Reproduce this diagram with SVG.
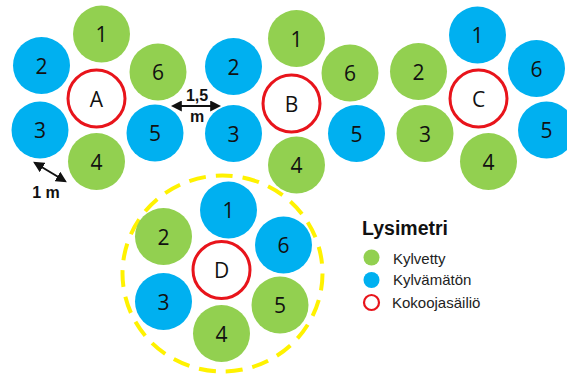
<svg xmlns="http://www.w3.org/2000/svg" width="567" height="374" viewBox="0 0 567 374">
<defs>
<style>
.g{fill:#92D050}
.b{fill:#00B0F0}
.r{fill:#fff;stroke:#E8141B;stroke-width:3}
.n{font-family:"Open Sans","Liberation Sans",sans-serif;font-size:21px;fill:#111;text-anchor:middle;dominant-baseline:central}
.l{font-family:"Open Sans","Liberation Sans",sans-serif;font-size:21px;fill:#111;text-anchor:middle;dominant-baseline:central}
.dim{font-family:"Liberation Sans",Arial,sans-serif;font-weight:bold;font-size:16px;fill:#111;text-anchor:middle}
.leg{font-family:"Liberation Sans",Arial,sans-serif;font-size:15px;fill:#222}
.ar{stroke:#111;stroke-width:2;fill:none;marker-start:url(#ah);marker-end:url(#ah)}
</style>
<marker id="ah" viewBox="0 0 10 10" refX="8" refY="5" markerWidth="5.5" markerHeight="5.5" orient="auto-start-reverse" markerUnits="strokeWidth">
<path d="M0,0 L10,5 L0,10 Z" fill="#111"/>
</marker>
</defs>
<rect width="567" height="374" fill="#fff"/>

<g id="ringD">
<ellipse cx="222.5" cy="273.5" rx="100" ry="98" fill="none" stroke="#FFF200" stroke-width="4" stroke-dasharray="17 10"/>
</g>

<g id="clusterA">
<g id="A1"><circle class="g" cx="101.5" cy="34" r="28.5"/><text class="n" x="101.5" y="34">1</text></g>
<g id="A2"><circle class="b" cx="41.5" cy="65.5" r="28.5"/><text class="n" x="41.5" y="65.5">2</text></g>
<g id="A6"><circle class="g" cx="158" cy="72" r="28.5"/><text class="n" x="158" y="72">6</text></g>
<g id="A"><circle class="r" cx="96.5" cy="98.5" r="28.5"/><text class="l" x="96.5" y="98.5">A</text></g>
<g id="A3"><circle class="b" cx="40" cy="130" r="28.5"/><text class="n" x="40" y="130">3</text></g>
<g id="A5"><circle class="b" cx="155" cy="133" r="28.5"/><text class="n" x="155" y="133">5</text></g>
<g id="A4"><circle class="g" cx="96.5" cy="161.5" r="28.5"/><text class="n" x="96.5" y="161.5">4</text></g>
</g>

<g id="clusterB">
<g id="B1"><circle class="g" cx="296.5" cy="38.5" r="28.5"/><text class="n" x="296.5" y="38.5">1</text></g>
<g id="B2"><circle class="b" cx="233.5" cy="66.5" r="28.5"/><text class="n" x="233.5" y="66.5">2</text></g>
<g id="B6"><circle class="g" cx="350" cy="73" r="28.5"/><text class="n" x="350" y="73">6</text></g>
<g id="B"><circle class="r" cx="291.5" cy="103.5" r="28.5"/><text class="l" x="291.5" y="103.5">B</text></g>
<g id="B3"><circle class="b" cx="233.5" cy="133.5" r="28.5"/><text class="n" x="233.5" y="133.5">3</text></g>
<g id="B5"><circle class="b" cx="356.5" cy="133.5" r="28.5"/><text class="n" x="356.5" y="133.5">5</text></g>
<g id="B4"><circle class="g" cx="296.5" cy="165" r="28.5"/><text class="n" x="296.5" y="165">4</text></g>
</g>

<g id="clusterC">
<g id="C1"><circle class="b" cx="477.5" cy="35" r="28.5"/><text class="n" x="477.5" y="35">1</text></g>
<g id="C2"><circle class="g" cx="418.5" cy="71.5" r="28.5"/><text class="n" x="418.5" y="71.5">2</text></g>
<g id="C6"><circle class="b" cx="536.5" cy="68.5" r="28.5"/><text class="n" x="536.5" y="68.5">6</text></g>
<g id="C"><circle class="r" cx="478.5" cy="98.5" r="28.5"/><text class="l" x="478.5" y="98.5">C</text></g>
<g id="C3"><circle class="g" cx="425" cy="133.5" r="28.5"/><text class="n" x="425" y="133.5">3</text></g>
<g id="C5"><circle class="b" cx="546.5" cy="130" r="28.5"/><text class="n" x="546.5" y="130">5</text></g>
<g id="C4"><circle class="g" cx="488.5" cy="161.5" r="28.5"/><text class="n" x="488.5" y="161.5">4</text></g>
</g>

<g id="clusterD">
<g id="D1"><circle class="b" cx="228.5" cy="210" r="28.5"/><text class="n" x="228.5" y="210">1</text></g>
<g id="D2"><circle class="g" cx="163.5" cy="236.5" r="28.5"/><text class="n" x="163.5" y="236.5">2</text></g>
<g id="D6"><circle class="b" cx="283.5" cy="245" r="28.5"/><text class="n" x="283.5" y="245">6</text></g>
<g id="D"><circle class="r" cx="221.5" cy="270" r="28.5"/><text class="l" x="221.5" y="270">D</text></g>
<g id="D3"><circle class="b" cx="163.5" cy="301.5" r="28.5"/><text class="n" x="163.5" y="301.5">3</text></g>
<g id="D5"><circle class="g" cx="280" cy="305" r="28.5"/><text class="n" x="280" y="305">5</text></g>
<g id="D4"><circle class="g" cx="221.5" cy="333.5" r="28.5"/><text class="n" x="221.5" y="333.5">4</text></g>
</g>

<g id="connectors">
<line class="ar" x1="35" y1="163" x2="65" y2="181"/>
<line class="ar" x1="173" y1="106" x2="219" y2="106"/>
</g>
<g id="dimlabels">
<text class="dim" x="46" y="198">1 m</text>
<text class="dim" x="197" y="101">1,5</text>
<text class="dim" x="197" y="122">m</text>
</g>

<g id="legend">
<text x="362" y="235" font-family="Liberation Sans,Arial,sans-serif" font-weight="bold" font-size="19.5px" fill="#111">Lysimetri</text>
<circle class="g" cx="371.5" cy="257.5" r="8"/>
<circle class="b" cx="371.5" cy="280" r="8"/>
<circle cx="371.5" cy="302.5" r="7.5" fill="#fff" stroke="#E8141B" stroke-width="2.2"/>
<text class="leg" x="393" y="264">Kylvetty</text>
<text class="leg" x="393" y="285">Kylvämätön</text>
<text class="leg" x="392" y="308">Kokoojasäiliö</text>
</g>
</svg>
